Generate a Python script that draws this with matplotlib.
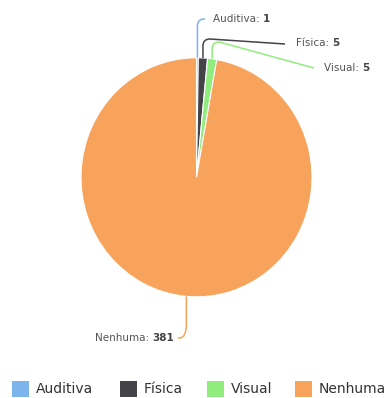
import numpy as np
import matplotlib
matplotlib.use("Agg")
import matplotlib.pyplot as plt
from matplotlib.path import Path
from matplotlib.patches import PathPatch, Rectangle
from matplotlib.transforms import Affine2D
from matplotlib.offsetbox import TextArea, HPacker, AnnotationBbox

# dados
categorias = ["Auditiva", "Física", "Visual", "Nenhuma"]
valores = [1, 5, 5, 381]
cores = ["#7cb5ec", "#434348", "#90ed7d", "#f7a35c"]

W, H = 390, 398
fig = plt.figure(figsize=(W / 100, H / 100), dpi=100)
ax = fig.add_axes([0, 0, 1, 1])


def Y(py):
    # pixel (topo) -> coordenada do eixo
    return H - py


cx, cy, r = 196.5, Y(177.3), 115.5
esticar = 1.035  # a imagem original é levemente alongada na vertical
wedges, _ = ax.pie(valores, colors=cores, startangle=90, counterclock=False,
                   center=(cx, cy), radius=r, frame=True,
                   wedgeprops=dict(edgecolor="white", linewidth=0.8))
escala = Affine2D().translate(-cx, -cy).scale(1, esticar).translate(cx, cy)
for w in wedges:
    w.set_transform(escala + ax.transData)
ax.set_xlim(0, W)
ax.set_ylim(0, H)
ax.set_aspect("equal")
ax.axis("off")

# posição dos rótulos (pixels): texto, cotovelo e fim da linha
rotulos = {
    "Auditiva": dict(tx=213, ty=19, ky=27, ex=205, ey=19, ha=0),
    "Física": dict(tx=296, ty=43, ky=39, ex=285, ey=44, ha=0),
    "Visual": dict(tx=324, ty=68, ky=42, ex=314, ey=68, ha=0),
    "Nenhuma": dict(tx=174, ty=338, ky=328, ex=178, ey=338, ha=1),
}

total = sum(valores)
acum = np.cumsum([0] + valores)
for i, nome in enumerate(categorias):
    meio = (acum[i] + acum[i + 1]) / 2 / total
    ang = np.deg2rad(90 - 360 * meio)
    ax0 = cx + r * np.cos(ang)
    ay0 = cy + r * esticar * np.sin(ang)
    p = rotulos[nome]
    ky = Y(p["ky"])
    ex, ey = p["ex"], Y(p["ey"])
    d = 7
    if p["ha"] == 0:
        if ey > ky:
            verts = [(ax0, ay0), (ax0, ey - d), (ax0, ey), (ax0 + d, ey), (ex, ey)]
        else:
            verts = [(ax0, ay0), (ax0, ky - d), (ax0, ky), (ax0 + d, ky), (ex, ey)]
    else:
        verts = [(ax0, ay0), (ax0, ey + 2 * d), (ax0, ey), (ax0 - d, ey), (ex, ey)]
    codes = [Path.MOVETO, Path.LINETO, Path.CURVE3, Path.CURVE3, Path.LINETO]
    ax.add_patch(PathPatch(Path(verts, codes), fill=False, edgecolor=cores[i], lw=1.1))

    t1 = TextArea(f"{nome}: ", textprops=dict(color="#555555", fontsize=7.5))
    t2 = TextArea(f"{valores[i]}", textprops=dict(color="#444444", fontsize=7.5, fontweight="bold"))
    box = HPacker(children=[t1, t2], pad=0, sep=0, align="baseline")
    ab = AnnotationBbox(box, (p["tx"], Y(p["ty"])), frameon=False, pad=0,
                        box_alignment=(p["ha"], 0.5))
    ax.add_artist(ab)

# legenda
leg_x = [12, 120, 207, 295]
for i, nome in enumerate(categorias):
    ax.add_patch(Rectangle((leg_x[i], Y(397)), 17, 16, color=cores[i], lw=0))
    ax.text(leg_x[i] + 24, Y(389), nome, fontsize=10, color="#333333",
            va="center", ha="left")

fig.savefig("out.png", dpi=100)
